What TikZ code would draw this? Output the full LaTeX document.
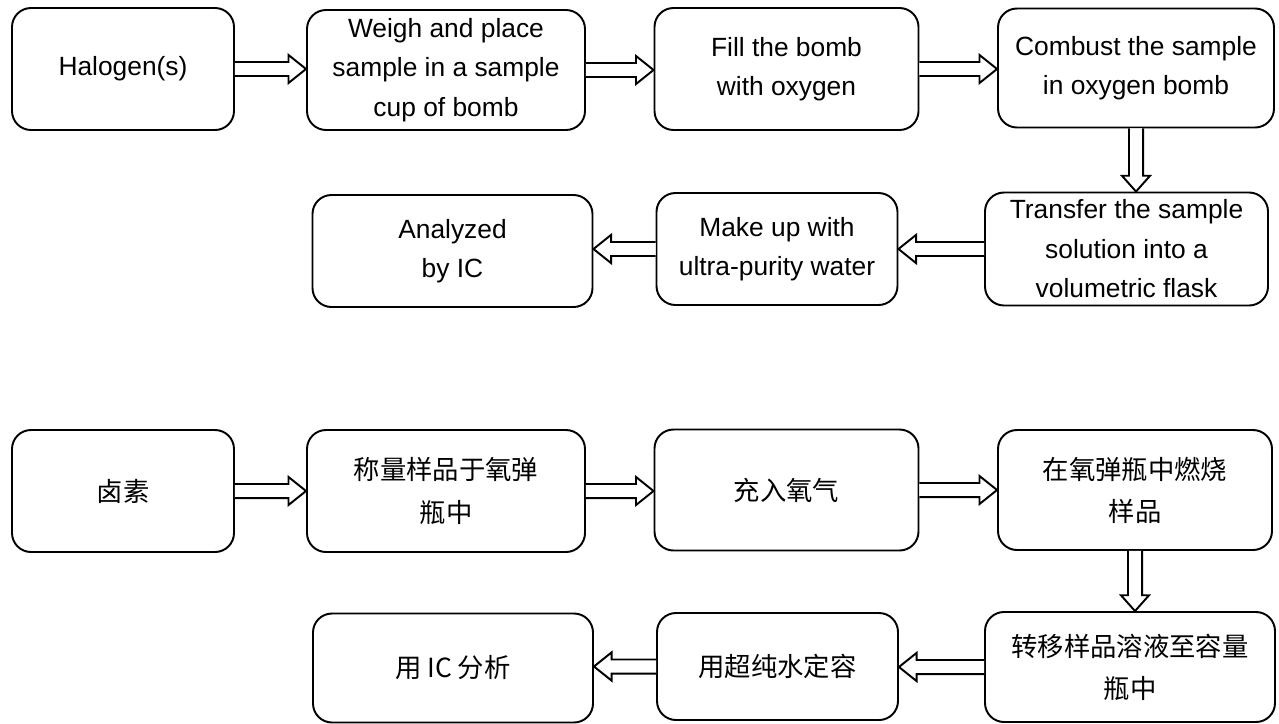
\documentclass[tikz,border=0pt]{standalone}
\usepackage{fontspec}
\setmainfont{Liberation Sans}
\newfontfamily\cjk{Noto Sans CJK SC}
\usetikzlibrary{calc}

\tikzset{
  box/.style={draw, rounded corners=0.38cm, line width=1.1pt, align=center,
    inner sep=2pt, font=\fontsize{15}{22.5}\selectfont},
  blockarr/.style={draw, fill=white, line width=1.1pt, line join=miter}
}

% block arrows between two named boxes
\newcommand{\arrright}[2]{\draw[blockarr] let \p1=(#1.east), \p2=(#2.west) in
  (\x1,\y1+4pt) -- (\x2-10pt,\y1+4pt) -- (\x2-10pt,\y1+8pt) -- (\x2,\y1)
  -- (\x2-10pt,\y1-8pt) -- (\x2-10pt,\y1-4pt) -- (\x1,\y1-4pt);}
\newcommand{\arrleft}[2]{\draw[blockarr] let \p1=(#1.west), \p2=(#2.east) in
  (\x1,\y1+4pt) -- (\x2+10pt,\y1+4pt) -- (\x2+10pt,\y1+8pt) -- (\x2,\y1)
  -- (\x2+10pt,\y1-8pt) -- (\x2+10pt,\y1-4pt) -- (\x1,\y1-4pt);}
\newcommand{\arrdown}[2]{\draw[blockarr] let \p1=(#1.south), \p2=(#2.north) in
  (\x1+4pt,\y1) -- (\x1+4pt,\y2+9pt) -- (\x1+8pt,\y2+9pt) -- (\x1,\y2)
  -- (\x1-8pt,\y2+9pt) -- (\x1-4pt,\y2+9pt) -- (\x1-4pt,\y1);}

\begin{document}
\begin{tikzpicture}[x=0.02cm, y=-0.02cm]

   \useasboundingbox (0,0) rectangle (1279,724);

   % English steps
   \foreach \n/\x/\y/\w/\h/\t in {
       A/123/69/222/122/{Halogen(s)},
       B/446/70/278/120/{Weigh and place\\sample in a sample\\cup of bomb},
       C/786.5/69/264/122/{Fill the bomb\\with oxygen},
       D/1136/68/276/119/{Combust the sample\\in oxygen bomb},
       E/1126.5/249/283/113/{Transfer the sample\\solution into a\\volumetric flask},
       F/777/249/241/112/{Make up with\\ultra-purity water},
       G/452.5/251/280/112/{Analyzed\\by IC}}
     \node [box, minimum width=\w*0.02cm, minimum height=\h*0.02cm]
        (v\n) at (\x,\y) {\t};

   % Chinese steps
   \foreach \n/\x/\y/\w/\h/\t in {
       A/123/491/222/122/{卤素},
       B/446/491/278/122/{称量样品于氧弹\\瓶中},
       C/786.5/490/264/121/{充入氧气},
       D/1135/490/274/120/{在氧弹瓶中燃烧\\样品},
       E/1130/667/290/110/{转移样品溶液至容量\\瓶中},
       F/777.5/666.5/241/107/{用超纯水定容},
       G/453/668/280/109/{用 IC 分析}}
     \node [box, font=\cjk\fontsize{15}{24}\selectfont,
        minimum width=\w*0.02cm, minimum height=\h*0.02cm]
        (w\n) at (\x,\y) {\t};

   \foreach \r in {v, w} {
     \arrright{\r A}{\r B}
     \arrright{\r B}{\r C}
     \arrright{\r C}{\r D}
     \arrdown{\r D}{\r E}
     \arrleft{\r E}{\r F}
     \arrleft{\r F}{\r G}
   }

\end{tikzpicture}
\end{document}
